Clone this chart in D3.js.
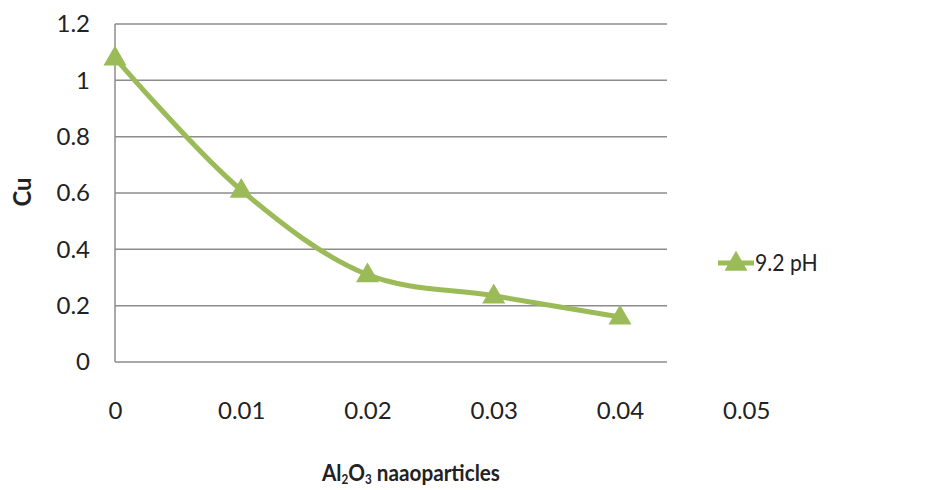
<!DOCTYPE html>
<html>
<head>
<meta charset="utf-8">
<script src="https://cdn.jsdelivr.net/npm/d3@7"></script>
<style>
  body { margin: 0; background: #fff; }
  text { font-family: Lato, "Open Sans", sans-serif; fill: #222; }
</style>
</head>
<body>
<svg id="chart" width="939" height="490"></svg>
<script>
// Al2O3 nanoparticle dose vs. residual Cu at pH 9.2
const doses = [0, 0.01, 0.02, 0.03, 0.04];
const cuValues = [1.08, 0.61, 0.31, 0.235, 0.16];
const seriesName = "9.2 pH";
const xTickValues = [0, 0.01, 0.02, 0.03, 0.04, 0.05];
const yTickValues = [0, 0.2, 0.4, 0.6, 0.8, 1.0, 1.2];

const green = "#9bbb59";
const gridColor = "#8c8c8c";

const svg = d3.select("#chart");

const plot = { left: 115, right: 667, top: 24, bottom: 362 };

const x = d3.scaleLinear().domain([0, 0.04]).range([plot.left, 620]);
const y = d3.scaleLinear().domain([0, 1.2]).range([plot.bottom, plot.top]);

// horizontal gridlines
svg.append("g")
  .selectAll("line")
  .data(yTickValues)
  .join("line")
  .attr("x1", plot.left)
  .attr("x2", plot.right)
  .attr("y1", d => y(d))
  .attr("y2", d => y(d))
  .attr("stroke", gridColor)
  .attr("stroke-width", 1.5);

// vertical axis line
svg.append("line")
  .attr("x1", plot.left).attr("x2", plot.left)
  .attr("y1", y(1.2)).attr("y2", y(0))
  .attr("stroke", gridColor)
  .attr("stroke-width", 1.5);

// y tick labels
const yAxis = d3.axisLeft(y)
  .tickValues(yTickValues)
  .tickSize(0)
  .tickPadding(0)
  .tickFormat(d => d3.format("")(+d.toFixed(1)));
const gy = svg.append("g")
  .attr("transform", `translate(${plot.left - 25},0)`)
  .call(yAxis);
gy.select(".domain").remove();
gy.selectAll("text")
  .style("font-size", "24px")
  .style("font-family", "Lato, 'Open Sans', sans-serif")
  .attr("fill", "#222");

// x tick labels
const xAxis = d3.axisBottom(x)
  .tickValues(xTickValues)
  .tickSize(0)
  .tickPadding(0)
  .tickFormat(d => d3.format("")(+d.toFixed(2)));
const gx = svg.append("g")
  .attr("transform", `translate(0,${plot.bottom + 40})`)
  .call(xAxis);
gx.select(".domain").remove();
gx.selectAll("text")
  .style("font-size", "24px")
  .style("font-family", "Lato, 'Open Sans', sans-serif")
  .attr("fill", "#222");

// series line
const points = doses.map((d, i) => [d, cuValues[i]]);
const line = d3.line()
  .x(d => x(d[0]))
  .y(d => y(d[1]))
  .curve(d3.curveCatmullRom.alpha(0.5));

svg.append("path")
  .datum(points)
  .attr("d", line)
  .attr("fill", "none")
  .attr("stroke", green)
  .attr("stroke-width", 5)
  .attr("stroke-linejoin", "round");

// triangle markers
const tri = d3.symbol().type(d3.symbolTriangle).size(230);
svg.append("g")
  .selectAll("path")
  .data(points)
  .join("path")
  .attr("d", tri)
  .attr("transform", d => `translate(${x(d[0])},${y(d[1]) + 1})`)
  .attr("fill", green);

// axis titles
svg.append("text")
  .attr("transform", `translate(31,192) rotate(-90) scale(0.95,1)`)
  .attr("text-anchor", "middle")
  .style("font-size", "25px")
  .style("font-weight", "bold")
  .text("Cu");

const xt = svg.append("text")
  .attr("transform", "translate(322,481) scale(0.9,1)")
  .style("font-size", "23px")
  .style("font-weight", "bold");
xt.append("tspan").text("Al");
xt.append("tspan").attr("dy", 3).style("font-size", "13px").text("2");
xt.append("tspan").attr("dy", -3).text("O");
xt.append("tspan").attr("dy", 3).style("font-size", "13px").text("3");
xt.append("tspan").attr("dy", -3).text(" naaoparticles");

// legend
const lg = svg.append("g").attr("transform", "translate(718,263)");
lg.append("line")
  .attr("x1", 0).attr("x2", 36)
  .attr("y1", 0).attr("y2", 0)
  .attr("stroke", green)
  .attr("stroke-width", 5);
lg.append("path")
  .attr("d", tri)
  .attr("transform", "translate(18,1)")
  .attr("fill", green);
lg.append("text")
  .attr("transform", "translate(37,8) scale(0.92,1)")
  .style("font-size", "23px")
  .text(seriesName);
</script>
</body>
</html>
